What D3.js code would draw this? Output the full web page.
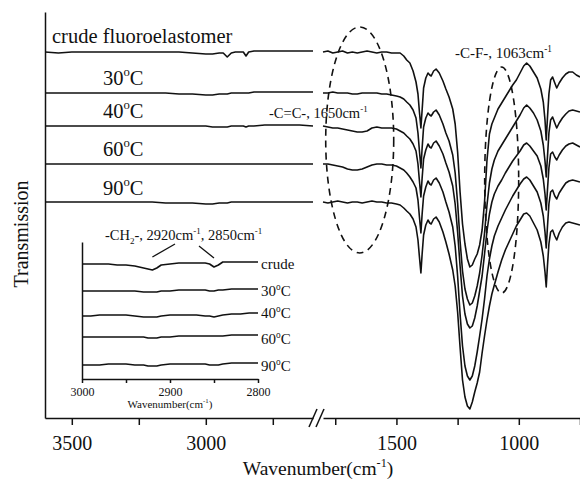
<!DOCTYPE html>
<html><head><meta charset="utf-8">
<script src="https://cdn.jsdelivr.net/npm/d3@7"></script>
<style>
html,body{margin:0;padding:0;background:#fff;}
svg{display:block;font-family:"Liberation Serif","Times New Roman",serif;}
</style></head><body>
<div id="chart"></div>
<script>
// ---------- DATA ----------
const seriesKeys = ["crude", "30", "40", "60", "90"];
const mainLabels = ["crude fluoroelastomer", "30", "40", "60", "90"];

// left segment (high wavenumber)
const leftWN = [3600,3550,3500,3450,3400,3350,3300,3250,3200,3150,
                3100,3050,3000,2975,2950,2935,2920,2905,2890,2870,
                2860,2850,2840,2820,2780,2740,2700,2650,2600];
const leftCrude = [366,365,366,366,366,366,366,366,366,366,
                   366,365,364,364,365,365,361,365,366,366,
                   366,362,366,367,367,367,367,367,367];
const left30 = [325,325,325,325,325,325,325,325,325,325,
                324,324,323,323,324,324,324,325,325,325,
                325,325,325,326,326,326,326,326,326];
const left40 = [292,292,292,292,292,292,292,292,292,292,
                292,292,292,291,291,291,291,292,292,292,
                292,291,292,292,293,293,293,293,292];
const left60 = [254,254,254,254,254,254,254,254,254,254,
                254,254,254,254,254,254,254,254,254,254,
                254,254,254,254,254,254,254,254,254];
const left90 = [216,216,216,216,216,216,216,216,216,215,
                215,215,214,214,215,215,215,216,216,216,
                216,216,216,216,216,216,216,216,216];

// right segment (fingerprint region)
const rightWN = [1800,1780,1760,1740,1720,1700,1680,1660,1640,1620,
                 1600,1580,1560,1540,1520,1500,1485,1470,1458,1445,
                 1432,1420,1412,1406,1400,1395,1389,1380,1371,1364,
                 1358,1348,1338,1325,1310,1298,1285,1270,1260,1250,
                 1240,1230,1220,1210,1200,1190,1180,1170,1160,1150,
                 1140,1130,1120,1110,1100,1085,1070,1055,1040,1025,
                 1010,995,980,968,955,940,925,910,900,893,
                 888,883,877,870,862,853,845,835,822,808,
                 795,780,765,750];
const rightCrude = [366,367,365,366,367,365,366,365,366,367,
                    366,365,366,366,365,365,365,362,358,355,
                    347,336,324,306,290,308,330,340,345,343,
                    342,347,349,345,337,329,321,309,294,266,
                    226,194,174,159,151,153,159,164,173,188,
                    216,258,284,294,300,309,315,321,327,333,
                    338,345,352,355,352,346,340,329,316,298,
                    278,300,324,338,341,335,330,335,340,344,
                    346,346,343,341];
const right30 = [325,325,326,325,325,325,324,324,325,325,
                 325,325,324,324,323,322,321,319,316,313,
                 308,300,285,267,250,270,291,300,305,303,
                 302,306,308,303,294,285,277,263,245,215,
                 177,147,129,119,113,115,122,132,145,163,
                 185,213,235,249,258,267,273,279,285,291,
                 297,303,310,313,310,305,298,287,273,257,
                 241,261,285,298,301,295,290,295,300,304,
                 307,308,307,306];
const right40 = [292,291,290,290,289,288,287,286,286,287,
                 290,291,290,290,290,289,287,285,282,279,
                 274,267,254,237,221,240,259,268,274,271,
                 270,275,277,272,264,255,246,232,214,186,
                 152,122,104,94,90,92,100,112,127,142,
                 164,187,204,216,224,232,238,245,251,257,
                 262,267,273,275,272,267,262,252,239,224,
                 208,228,250,264,266,261,258,263,268,272,
                 274,275,273,271];
const right60 = [254,254,253,252,251,249,248,248,249,251,
                 253,254,254,253,253,252,250,248,245,241,
                 236,230,218,201,185,204,222,231,237,234,
                 233,238,240,235,226,216,206,191,172,142,
                 104,72,52,42,38,42,52,66,82,99,
                 119,142,159,172,182,192,200,208,215,222,
                 228,234,239,241,238,232,226,215,202,186,
                 170,191,214,226,228,222,219,225,230,235,
                 237,238,237,236];
const right90 = [216,215,216,217,216,215,216,216,215,216,
                 217,216,216,215,215,214,213,210,207,204,
                 199,191,178,161,145,164,183,193,198,195,
                 194,199,201,196,186,176,164,148,132,106,
                 71,38,21,12,9,16,26,35,46,65,
                 82,98,112,124,133,146,158,168,176,184,
                 192,198,204,205,202,195,188,176,162,146,
                 131,152,174,186,188,182,178,185,191,195,
                 196,195,194,193];

// inset (C-H stretching region)
const insetWN = [3000,2990,2980,2970,2960,2950,2940,2930,2925,2920,
                 2915,2910,2900,2890,2880,2870,2860,2855,2850,2845,
                 2840,2830,2820,2810,2800];
const insetCrude = [115,115,115,115,114,114,113,111,110,109,
                    111,114,115,116,116,116,116,115,112,114,
                    117,117,117,117,117];
const inset30 = [88,88,88,88,88,88,88,87,87,87,
                 87,88,88,89,89,89,89,88,88,89,
                 89,90,90,90,90];
const inset40 = [63,63,64,64,64,64,63,62,62,62,
                 62,63,64,64,64,64,63,63,62,63,
                 64,65,65,66,66];
const inset60 = [42,42,42,42,42,42,42,42,41,41,
                 41,42,42,43,43,43,43,43,43,43,
                 43,44,44,44,44];
const inset90 = [14,14,14,15,15,15,14,14,13,13,
                 13,14,15,15,15,15,15,14,14,14,
                 15,16,16,16,16];
const insetLabels = ["crude", "30", "40", "60", "90"];

const leftTicks = [3500, 3250, 3000, 2750];
const rightTicks = [1750, 1500, 1250, 1000, 750];
const insetTicks = [3000, 2950, 2900, 2850, 2800];

// ---------- CHART ----------
const W = 580, H = 479;
const svg = d3.select("#chart").append("svg").attr("width", W).attr("height", H);

const xL = d3.scaleLinear().domain([3600, 2600]).range([45, 313]);
const xR = d3.scaleLinear().domain([1800, 750]).range([323, 580]);
const y = d3.scaleLinear().domain([0, 406]).range([418, 12]);

const xI = d3.scaleLinear().domain([3000, 2800]).range([82, 258]);
const yI = d3.scaleLinear().domain([0, 137]).range([379, 242]);

function rich(g, x, yy, size, parts, anchor) {
  const t = g.append("text").attr("x", x).attr("y", yy)
    .attr("font-size", size).attr("fill", "#111")
    .attr("text-anchor", anchor || "start");
  let shift = 0;
  parts.forEach(p => {
    const [str, kind] = Array.isArray(p) ? p : [p, "n"];
    const target = kind === "sup" ? -size * 0.42 : kind === "sub" ? size * 0.28 : 0;
    const ts = t.append("tspan").text(str).attr("dy", target - shift);
    if (kind !== "n") ts.attr("font-size", size * 0.62);
    shift = target;
  });
  return t;
}

const curveStroke = "#111";
const lineL = d3.line().x(d => xL(d[0])).y(d => y(d[1]));
const lineR = d3.line().x(d => xR(d[0])).y(d => y(d[1]));
const lineI = d3.line().x(d => xI(d[0])).y(d => yI(d[1]));

const leftSeries = [leftCrude, left30, left40, left60, left90];
const rightSeries = [rightCrude, right30, right40, right60, right90];
const insetSeries = [insetCrude, inset30, inset40, inset60, inset90];

const gCurves = svg.append("g").attr("fill", "none").attr("stroke", curveStroke)
  .attr("stroke-width", 1.6).attr("stroke-linejoin", "round");
leftSeries.forEach(s => gCurves.append("path").attr("d", lineL(d3.zip(leftWN, s))));
rightSeries.forEach(s => gCurves.append("path").attr("d", lineR(d3.zip(rightWN, s))));

// dashed ellipses (annotations)
const ellipses = [
  { wn: 1650, cy: 140, rx: 34, ry: 113 },
  { wn: 1070, cy: 180, rx: 17, ry: 113 }
];
svg.append("g").selectAll("ellipse").data(ellipses).join("ellipse")
  .attr("cx", d => xR(d.wn)).attr("cy", d => d.cy)
  .attr("rx", d => d.rx).attr("ry", d => d.ry)
  .attr("fill", "none").attr("stroke", "#111").attr("stroke-width", 1.6)
  .attr("stroke-dasharray", "7,5");

// axes
function styleAxis(g, fs) {
  g.select(".domain").attr("stroke", "#111").attr("stroke-width", 1.5);
  g.selectAll(".tick line").attr("stroke", "#111").attr("stroke-width", 1.5);
  g.selectAll(".tick text").attr("fill", "#111").attr("font-size", fs)
    .attr("font-family", "Liberation Serif, Times New Roman, serif");
}
const gxL = svg.append("g").attr("transform", "translate(0,418)")
  .call(d3.axisBottom(xL).tickValues(leftTicks).tickSize(7).tickSizeOuter(0)
    .tickFormat(d => d % 500 === 0 ? d : ""));
styleAxis(gxL, 20);
gxL.selectAll(".tick text").attr("y", 18);
const gxR = svg.append("g").attr("transform", "translate(0,418)")
  .call(d3.axisBottom(xR).tickValues(rightTicks).tickSize(7).tickSizeOuter(0)
    .tickFormat(d => d % 500 === 0 ? d : ""));
styleAxis(gxR, 20);
gxR.selectAll(".tick text").attr("y", 18);
const gy = svg.append("g").attr("transform", "translate(45,0)")
  .call(d3.axisLeft(y).tickValues([]).tickSizeOuter(0));
styleAxis(gy, 20);

// axis break marks
const bx0 = xL.range()[1], bx1 = xR.range()[0];
svg.append("g").attr("stroke", "#111").attr("stroke-width", 1.5)
  .selectAll("line").data([bx0 - 4, bx0 + 3]).join("line")
  .attr("x1", d => d).attr("y1", 427).attr("x2", d => d + 8).attr("y2", 409);

// axis titles
rich(svg, 318, 475, 19.5, ["Wavenumber(cm", ["-1", "sup"], ")"], "middle");
svg.append("text").attr("transform", "translate(28,234) rotate(-90)")
  .attr("text-anchor", "middle").attr("font-size", 20).attr("fill", "#111")
  .text("Transmission");

// series labels (main)
const mainLabelPos = [[52, 43], [103, 85], [103, 118], [103, 156], [103, 195]];
mainLabels.forEach((lab, i) => {
  const [lx, ly] = mainLabelPos[i];
  if (i === 0) rich(svg, lx, ly, 20.5, [lab]);
  else rich(svg, lx, ly, 20.5, [lab, ["o", "sup"], "C"]);
});

// peak annotations
rich(svg, 269, 118, 14.5, ["-C=C-, 1650cm", ["-1", "sup"]]);
rich(svg, 455, 58, 15, ["-C-F-, 1063cm", ["-1", "sup"]]);

// ---------- INSET ----------
const gIn = svg.append("g");
const gInC = gIn.append("g").attr("fill", "none").attr("stroke", curveStroke)
  .attr("stroke-width", 1.6).attr("stroke-linejoin", "round");
insetSeries.forEach(s => gInC.append("path").attr("d", lineI(d3.zip(insetWN, s))));

const gix = gIn.append("g").attr("transform", "translate(0,379)")
  .call(d3.axisBottom(xI).tickValues(insetTicks).tickSize(4).tickSizeOuter(0)
    .tickFormat(d => d % 100 === 0 ? d : ""));
styleAxis(gix, 12);
gix.selectAll(".tick text").attr("y", 8);
const giy = gIn.append("g").attr("transform", "translate(82,0)")
  .call(d3.axisLeft(yI).tickValues([]).tickSizeOuter(0));
styleAxis(giy, 12);

rich(gIn, xI(2900), 408, 11, ["Wavenumber(cm", ["-1", "sup"], ")"], "middle");

const insetLabelY = [269, 296, 318, 344, 371];
insetLabels.forEach((lab, i) => {
  if (i === 0) rich(gIn, 261, insetLabelY[i], 15, [lab]);
  else rich(gIn, 261, insetLabelY[i], 15, [lab, ["o", "sup"], "C"]);
});

rich(gIn, 105, 240, 14.5, ["-CH", ["2", "sub"], "-, 2920cm", ["-1", "sup"], ", 2850cm", ["-1", "sup"]]);
gIn.append("g").attr("stroke", "#111").attr("stroke-width", 1.3)
  .selectAll("line").data([[2920, 257, 175, 244], [2850, 258, 199, 246]]).join("line")
  .attr("x1", d => xI(d[0])).attr("y1", d => d[1])
  .attr("x2", d => d[2]).attr("y2", d => d[3]);
</script>
</body></html>
